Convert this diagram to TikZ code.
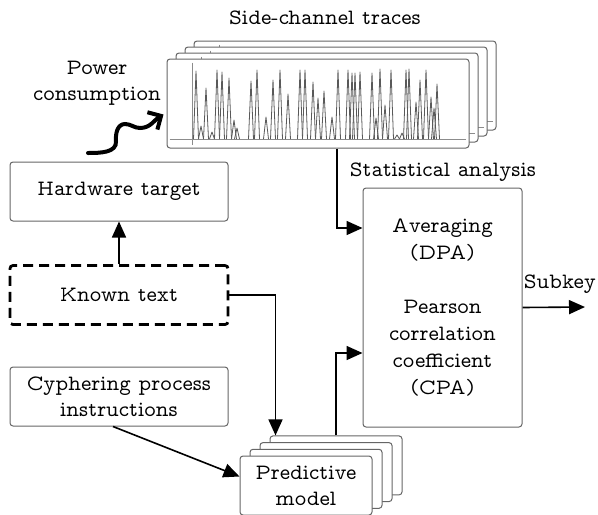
\documentclass[tikz,border=0pt]{standalone}
\usepackage[OT1]{fontenc}
\renewcommand{\rmdefault}{cmvtt}
\usetikzlibrary{arrows.meta,calc}
\newcommand\panelnode[3]{node[panel, minimum width=#1, minimum height=#2] (#3) {}}
\newcommand\textlabel[2]{node[inner sep=0pt, outer sep=0pt, align=center] (#1) {#2}}

\begin{document}
\begin{tikzpicture}[x=0.5pt, y=-0.5pt,
    font=\fontsize{11}{13.2}\selectfont,
    box/.style={draw=black!60, rounded corners=1.5pt, fill=white, align=center,
        minimum width=109pt, minimum height=29.5pt, line width=0.5pt},
    dashbox/.style={box, draw=black, line width=1.4pt, dash pattern=on 5pt off 3pt},
    panel/.style={draw=black!60, rounded corners=1.5pt, fill=white, line width=0.5pt},
    conn/.style={line width=0.8pt, -{Triangle[length=8pt, width=7pt]}},
    axis/.style={draw=black!45, line width=0.4pt},
    trace/.style={draw=black!65, line width=0.4pt, line join=round}]
    \useasboundingbox (0,0) rectangle (598,514);

    % Stapel der Messkurven
    \foreach \k in {3,2,1} {
        \path (318+9*\k,103.5-6*\k) \panelnode{151pt}{44.5pt}{tr\k};
        \draw[axis] ($(tr\k.north west)+(26,4)$) -- ($(tr\k.south west)+(26,-4)$);
        \draw[axis] ($(tr\k.south west)+(3,-9)$) -- ($(tr\k.south east)+(-4,-9)$);
    }
    \path (318,103.5) \panelnode{151pt}{44.5pt}{traces};
    \draw[axis] ($(traces.north west)+(26,4)$) -- ($(traces.south west)+(26,-4)$);
    \draw[axis] ($(traces.south west)+(3,-9)$) -- ($(traces.south east)+(-4,-9)$);
    \foreach \px/\py in {196/71, 201/126, 206/88, 212/132, 217/70, 222/72, 229/78,
        234/120, 237/128, 251/81, 257/70, 266/117, 273/80, 280/70, 288/94, 300/70,
        305/70, 313/82, 318/98, 324/91, 332/117, 338/70, 348/70, 352/73, 355/73,
        360/72, 372/73, 376/118, 380/69, 385/105, 391/70, 397/135, 402/133, 406/70,
        409/69, 416/102, 420/80, 426/70, 431/97, 434/108, 437/84}
        \draw[trace] (\px-2.5,139) -- (\px,\py) -- (\px+2.5,139);

    % Beschriftungen
    \path (325,18) \textlabel{tracelabel}{Side-channel traces};
    \path (97,83) \textlabel{powerlabel}{Power\\consumption};

    % Welle
    \coordinate (wave) at (88,153);
    \draw[line width=2pt, line cap=round, -{Straight Barb[length=5pt, width=10pt]}]
        (wave) to[out=0,in=-85]
        (116,141) to[out=95,in=180]
        (125,124) to[out=0,in=180]
        (140,128) to[out=0,in=-150]
        ($(traces.west)+(-3,11)$);

    % Linke Kästen
    \node[box] (hw) at (119,191.5) {Hardware target};
    \node[dashbox] (known) at (119,295) {Known text};
    \node[box] (cypher) at (119,396.5) {Cyphering process\\instructions};

    % Vorhersagemodell
    \foreach \k in {3,2,1}
        \path (306+10*\k,485.5-6.7*\k) \panelnode{66pt}{29.5pt}{pred\k};
    \node[box, minimum width=66pt] (predict) at (306,485.5) {Predictive\\model};

    % Statistik
    \node[box, minimum width=79.5pt, minimum height=119.5pt, font=\fontsize{11}{13.5}\selectfont]
        (stats) at (442.5,307.5)
        {Averaging\\(DPA)\\[13.5pt]Pearson\\correlation\\coefficient\\(CPA)};
    \path (443,172) \textlabel{statslabel}{Statistical analysis};

    % Verbindungen
    \draw[conn] (known.north) -- (hw.south);
    \draw[conn] (known.east) -| ($(pred3.north west)+(6,0)$);
    \draw[conn] ($(cypher.south)+(-6,0)$) -- ($(predict.west)+(0,-9)$);
    \draw[conn] (pred3.north) |- ($(stats.west)+(0,45.5)$);
    \draw[conn] ($(traces.south)+(19,0)$) |- ($(stats.west)+(0,-79.5)$);
    \coordinate (subkey) at (585,307);
    \draw[conn] (stats.east) -- (subkey);
    \path (560,284) \textlabel{subkeylabel}{Subkey};
\end{tikzpicture}
\end{document}
